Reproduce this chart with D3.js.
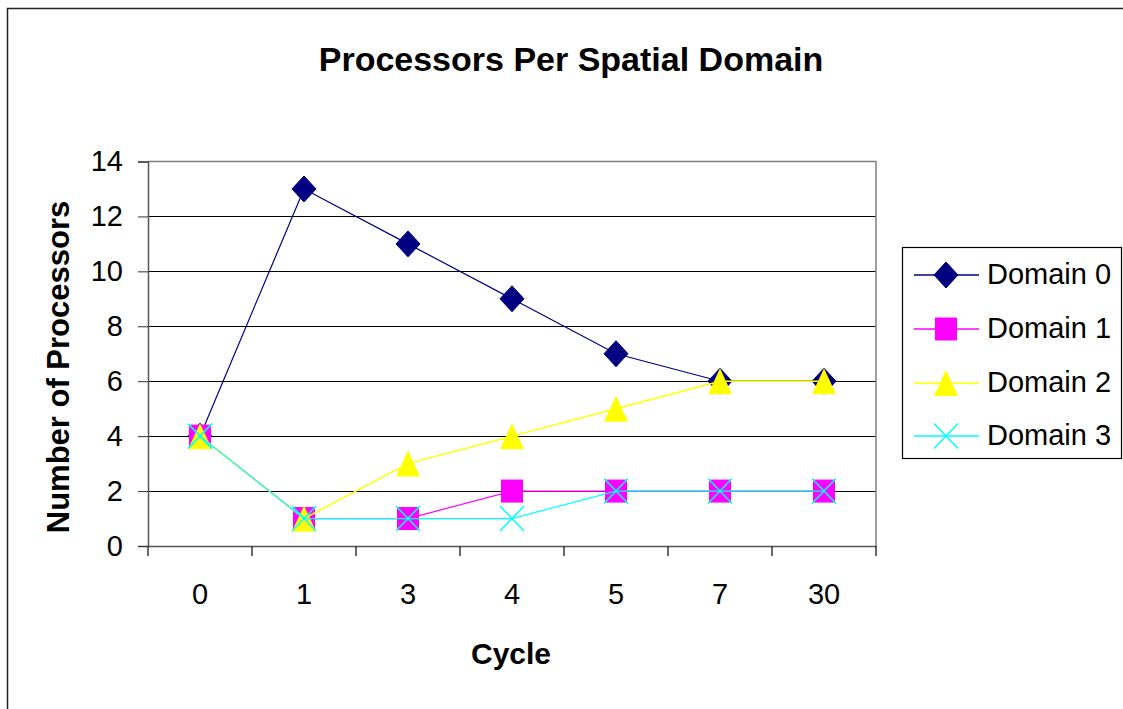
<!DOCTYPE html>
<html>
<head>
<meta charset="utf-8">
<script src="https://cdn.jsdelivr.net/npm/d3@7"></script>
<style>
  body { margin: 0; background: #fff; }
  svg { display: block; font-family: "Liberation Sans", Arial, sans-serif; }
</style>
</head>
<body>
<div id="chart"></div>
<script>
const cycles = ["0", "1", "3", "4", "5", "7", "30"];
const seriesNames = ["Domain 0", "Domain 1", "Domain 2", "Domain 3"];
const domain0 = [4, 13, 11, 9, 7, 6, 6];
const domain1 = [4, 1, 1, 2, 2, 2, 2];
const domain2 = [4, 1, 3, 4, 5, 6, 6];
const domain3 = [4, 1, 1, 1, 2, 2, 2];
const yTicks = [0, 2, 4, 6, 8, 10, 12, 14];

const colors = ["#000080", "#ff00ff", "#ffff00", "#00ffff"];
const shapes = ["diamond", "square", "triangle", "x"];
const allSeries = [domain0, domain1, domain2, domain3];

const width = 1123, height = 709;
const plot = { left: 148, right: 876, top: 161.5, bottom: 546 };

const svg = d3.select("#chart").append("svg")
  .attr("width", width)
  .attr("height", height);

svg.append("rect")
  .attr("width", width).attr("height", height).attr("fill", "#fff");

// outer chart border
svg.append("rect")
  .attr("x", 7.5).attr("y", 8.5)
  .attr("width", width + 10).attr("height", height + 10)
  .attr("fill", "none").attr("stroke", "#222").attr("stroke-width", 1.5);

const x = d3.scaleBand().domain(cycles).range([plot.left, plot.right]);
const y = d3.scaleLinear().domain([0, 14]).range([plot.bottom, plot.top]);

// gridlines
svg.append("g")
  .selectAll("line")
  .data(yTicks.filter(d => d > 0 && d < 14))
  .join("line")
  .attr("x1", plot.left).attr("x2", plot.right)
  .attr("y1", d => Math.round(y(d)) + 0.5).attr("y2", d => Math.round(y(d)) + 0.5)
  .attr("stroke", "#000").attr("stroke-width", 1);

// plot area border (gray top / right)
svg.append("path")
  .attr("d", `M${plot.left},${plot.top}H${plot.right}V${plot.bottom}`)
  .attr("fill", "none").attr("stroke", "#808080").attr("stroke-width", 1.5);

// y axis
const yAxis = svg.append("g")
  .attr("transform", `translate(${plot.left},0)`)
  .call(d3.axisLeft(y).tickValues(yTicks).tickSize(10).tickPadding(15));
yAxis.select(".domain").attr("stroke", "#555").attr("stroke-width", 1.5);
yAxis.selectAll(".tick line").attr("stroke", "#333");
yAxis.selectAll(".tick text").attr("font-size", 29).attr("fill", "#000")
  .attr("font-family", "Liberation Sans, Arial, sans-serif");

// x axis
const xAxis = svg.append("g")
  .attr("transform", `translate(0,${plot.bottom})`)
  .call(d3.axisBottom(x).tickSize(0).tickPadding(37));
xAxis.select(".domain").attr("stroke", "#555").attr("stroke-width", 1.5);
xAxis.selectAll(".tick text").attr("font-size", 29).attr("fill", "#000")
  .attr("font-family", "Liberation Sans, Arial, sans-serif");
// category boundary ticks
xAxis.append("g").selectAll("line")
  .data(d3.range(cycles.length + 1))
  .join("line")
  .attr("x1", i => plot.left + i * x.step()).attr("x2", i => plot.left + i * x.step())
  .attr("y1", 0).attr("y2", 10)
  .attr("stroke", "#333").attr("stroke-width", 1.5);

// titles
svg.append("text")
  .attr("x", 571).attr("y", 71)
  .attr("text-anchor", "middle")
  .attr("font-size", 34).attr("font-weight", "bold")
  .text("Processors Per Spatial Domain");

svg.append("text")
  .attr("x", 511).attr("y", 664)
  .attr("text-anchor", "middle")
  .attr("font-size", 30).attr("font-weight", "bold")
  .text("Cycle");

svg.append("text")
  .attr("transform", `translate(69,${367}) rotate(-90)`)
  .attr("text-anchor", "middle")
  .attr("font-size", 31).attr("font-weight", "bold")
  .text("Number of Processors");

function drawMarker(g, shape, color, cx, cy) {
  if (shape === "diamond") {
    g.append("path")
      .attr("d", `M${cx},${cy - 13}L${cx + 12},${cy}L${cx},${cy + 13}L${cx - 12},${cy}Z`)
      .attr("fill", color).attr("stroke", color);
  } else if (shape === "square") {
    g.append("rect")
      .attr("x", cx - 11).attr("y", cy - 11.5).attr("width", 22).attr("height", 23)
      .attr("fill", color);
  } else if (shape === "triangle") {
    g.append("path")
      .attr("d", `M${cx},${cy - 13}L${cx + 12},${cy + 13}L${cx - 12},${cy + 13}Z`)
      .attr("fill", color);
  } else {
    g.append("path")
      .attr("d", `M${cx - 12},${cy - 12.5}L${cx + 12},${cy + 12.5}M${cx + 12},${cy - 12.5}L${cx - 12},${cy + 12.5}`)
      .attr("stroke", color).attr("stroke-width", 1.5).attr("fill", "none");
  }
}

const line = d3.line()
  .x((d, i) => x(cycles[i]) + x.bandwidth() / 2)
  .y(d => y(d));

allSeries.forEach((vals, s) => {
  const g = svg.append("g");
  g.append("path")
    .datum(vals)
    .attr("d", line)
    .attr("fill", "none")
    .attr("stroke", colors[s])
    .attr("stroke-width", s === 2 ? 1.5 : 1.2);
  vals.forEach((v, i) => {
    drawMarker(g, shapes[s], colors[s], x(cycles[i]) + x.bandwidth() / 2, y(v));
  });
});

// legend
const legend = svg.append("g");
legend.append("rect")
  .attr("x", 902.5).attr("y", 247.5).attr("width", 219).attr("height", 211)
  .attr("fill", "#fff").attr("stroke", "#000").attr("stroke-width", 1.2);

const legendRows = [275, 329, 383, 436];
seriesNames.forEach((name, s) => {
  const ly = legendRows[s];
  legend.append("line")
    .attr("x1", 914).attr("x2", 979).attr("y1", ly).attr("y2", ly)
    .attr("stroke", colors[s]).attr("stroke-width", 1.5);
  drawMarker(legend, shapes[s], colors[s], 946, ly);
  legend.append("text")
    .attr("x", 987).attr("y", ly + 9)
    .attr("font-size", 29)
    .text(name);
});
</script>
</body>
</html>
